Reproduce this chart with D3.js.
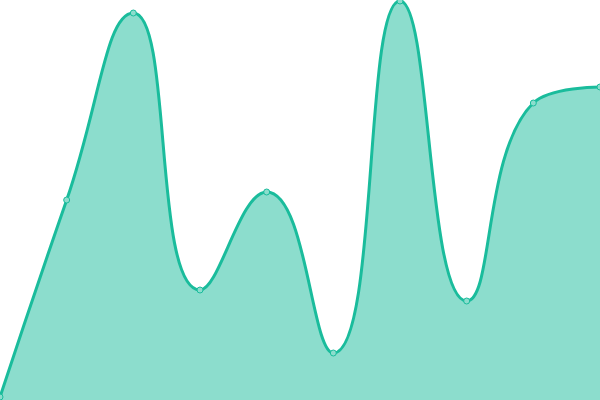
<!DOCTYPE html>
<html>
<head>
<meta charset="utf-8">
<script src="https://cdn.jsdelivr.net/npm/d3@7"></script>
<style>
  html, body { margin: 0; padding: 0; background: #fff; }
  svg { display: block; }
</style>
</head>
<body>
<div id="chart"></div>
<script>
// 数据
const categories = [0, 1, 2, 3, 4, 5, 6, 7, 8, 9];
const seriesValues = [0.75, 50, 96.75, 27.5, 52, 11.75, 99.75, 24.75, 74.25, 78.25];

const width = 600;
const height = 400;
const lineColor = '#1abc9c';
const SMOOTH = 0.5;

const svg = d3.select('#chart')
    .append('svg')
    .attr('width', width)
    .attr('height', height);

const x = d3.scaleLinear()
    .domain([0, categories.length - 1])
    .range([0, width]);

const y = d3.scaleLinear()
    .domain([0, 100])
    .range([height, 0]);

const points = categories.map((c, i) => ({ c, v: seriesValues[i] }));

// 平滑曲线：控制点按相邻段长度分配，并限制在相邻两点的范围内（不会越过端点）
function smoothCurve(context) {
    let pts = [];
    return {
        areaStart() { this._area = true; },
        areaEnd() { this._area = false; },
        lineStart() { pts = []; },
        point(px, py) { pts.push([+px, +py]); },
        lineEnd() {
            let cpx0, cpy0;
            for (let i = 0; i < pts.length; i++) {
                const [px, py] = pts[i];
                if (i === 0) {
                    context.moveTo(px, py);
                    cpx0 = px; cpy0 = py;
                    continue;
                }
                const [prevX, prevY] = pts[i - 1];
                let cpx1, cpy1, nextCpx0, nextCpy0;
                if (i === pts.length - 1) {
                    cpx1 = px; cpy1 = py;
                } else {
                    const [nextX, nextY] = pts[i + 1];
                    let vx = nextX - prevX, vy = nextY - prevY;
                    const lenPrev = Math.hypot(px - prevX, py - prevY);
                    const lenNext = Math.hypot(nextX - px, nextY - py);
                    const ratio = lenNext / (lenNext + lenPrev);
                    nextCpx0 = px + vx * SMOOTH * ratio;
                    nextCpy0 = py + vy * SMOOTH * ratio;
                    nextCpx0 = Math.max(Math.min(nextCpx0, Math.max(nextX, px)), Math.min(nextX, px));
                    nextCpy0 = Math.max(Math.min(nextCpy0, Math.max(nextY, py)), Math.min(nextY, py));
                    vx = nextCpx0 - px; vy = nextCpy0 - py;
                    cpx1 = px - vx * lenPrev / lenNext;
                    cpy1 = py - vy * lenPrev / lenNext;
                    cpx1 = Math.max(Math.min(cpx1, Math.max(prevX, px)), Math.min(prevX, px));
                    cpy1 = Math.max(Math.min(cpy1, Math.max(prevY, py)), Math.min(prevY, py));
                    vx = px - cpx1; vy = py - cpy1;
                    nextCpx0 = px + vx * lenNext / lenPrev;
                    nextCpy0 = py + vy * lenNext / lenPrev;
                }
                context.bezierCurveTo(cpx0, cpy0, cpx1, cpy1, px, py);
                cpx0 = nextCpx0; cpy0 = nextCpy0;
            }
        }
    };
}

const line = d3.line()
    .x(d => x(d.c))
    .y(d => y(d.v))
    .curve(smoothCurve);

const linePath = line(points);

// 面积：平滑上边 + 底边
const lastX = x(categories[categories.length - 1]);
const firstX = x(categories[0]);
svg.append('path')
    .attr('d', linePath + `L${lastX},${y(0)}L${firstX},${y(0)}Z`)
    .attr('fill', lineColor)
    .attr('fill-opacity', 0.5);

// 折线
svg.append('path')
    .attr('d', linePath)
    .attr('fill', 'none')
    .attr('stroke', lineColor)
    .attr('stroke-width', 3);

// 数据点
svg.selectAll('circle')
    .data(points)
    .enter()
    .append('circle')
    .attr('cx', d => x(d.c))
    .attr('cy', d => y(d.v))
    .attr('r', 3)
    .attr('fill', '#8cddcd')
    .attr('stroke', lineColor)
    .attr('stroke-width', 1);
</script>
</body>
</html>
